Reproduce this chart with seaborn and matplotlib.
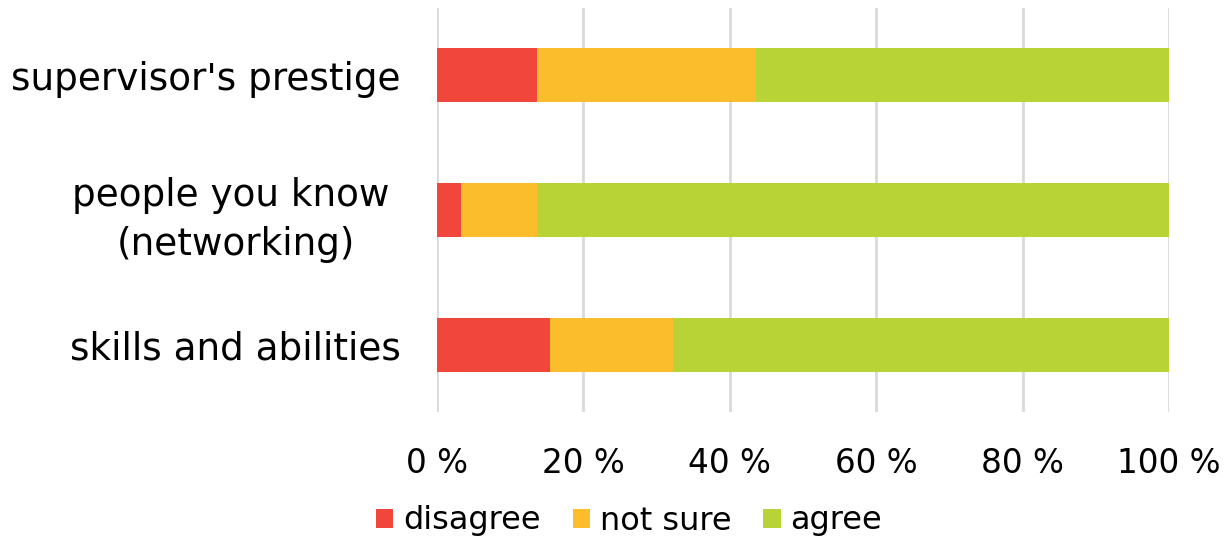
import matplotlib
matplotlib.use("Agg")
import matplotlib.pyplot as plt
import seaborn as sns
import pandas as pd
from matplotlib.patches import Patch

categories = ["supervisor's prestige", "people you know \n(networking)", "skills and abilities"]
disagree = [13.6, 3.3, 15.5]
not_sure = [30.0, 10.4, 16.8]
agree = [56.4, 86.3, 67.7]
series_names = ["disagree", "not sure", "agree"]
colors = ["#F0463B", "#FBBD2C", "#B7D335"]
tick_values = [0, 20, 40, 60, 80, 100]
tick_labels = ["0 %", "20 %", "40 %", "60 %", "80 %", "100 %"]

sns.set_theme(style="white")
plt.rcParams["font.family"] = ["DejaVu Sans"]
plt.rcParams["text.color"] = "black"
plt.rcParams["xtick.color"] = "black"
plt.rcParams["ytick.color"] = "black"

df = pd.DataFrame({"category": categories, "disagree": disagree,
                   "not sure": not_sure, "agree": agree})
df["c1"] = df["disagree"]
df["c2"] = df["disagree"] + df["not sure"]
df["c3"] = df["c2"] + df["agree"]

fig = plt.figure(figsize=(12.26, 5.39), dpi=100)
ax = fig.add_axes([437 / 1226, 1 - 412 / 539, (1169 - 437) / 1226, 404 / 539])

# stacked bars: draw cumulative totals back to front
for col, color in zip(["c3", "c2", "c1"], colors[::-1]):
    sns.barplot(data=df, x=col, y="category", color=color, orient="h",
                width=0.4, ax=ax, saturation=1, linewidth=0, zorder=3)

ax.set_xlim(0, 100)
ax.set_xticks(tick_values)
ax.set_xticklabels(tick_labels, fontsize=23.5)
ax.set_xlabel("")
ax.set_ylabel("")
ax.tick_params(axis="x", pad=25, length=0)
ax.tick_params(axis="y", pad=26, length=0, labelsize=26.9)
for lbl in ax.get_yticklabels():
    lbl.set_multialignment("center")
    lbl.set_linespacing(1.4)
ax.grid(axis="x", color="#D9D9D9", linewidth=2, zorder=0)
ax.set_axisbelow(True)
for s in ax.spines.values():
    s.set_visible(False)

handles = [Patch(facecolor=c, edgecolor="none") for c in colors]
fig.legend(handles, series_names, loc="center", bbox_to_anchor=(629 / 1226, 1 - 521 / 539),
           ncol=3, frameon=False, fontsize=23, handlelength=0.55, handleheight=0.55,
           handletextpad=0.3, columnspacing=1.0)

fig.savefig("out.png", dpi=100, facecolor="white")
